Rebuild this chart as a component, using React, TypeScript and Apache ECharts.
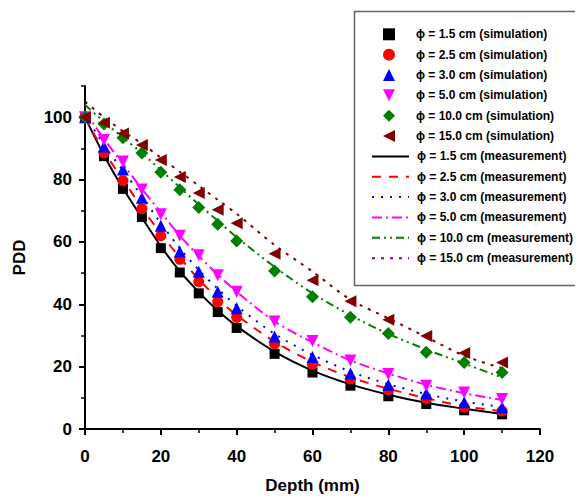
import React, { useEffect, useRef } from "react";
import * as echarts from "echarts";

const depth = [0, 5, 10, 15, 20, 25, 30, 35, 40, 50, 60, 70, 80, 90, 100, 110];

const sim15 = [100, 87.5, 77, 68, 58, 50.2, 43.5, 37.5, 32.4, 24.1, 18.1, 13.9, 10.5, 8.0, 6.0, 4.7];
const sim25 = [100, 88.5, 79.6, 70.6, 62, 54.4, 47.2, 40.8, 35.8, 27.3, 20.8, 16, 12.5, 9.7, 7.0, 5.8];
const sim30 = [100, 90.6, 83.2, 74.2, 65.2, 56.9, 50.4, 44, 38.7, 29.7, 23.1, 17.8, 14.2, 11.4, 8.6, 7.0];
const sim50 = [100, 92.7, 85.8, 76.8, 68.9, 62, 55.7, 49.3, 44, 34.5, 28.2, 22, 17.6, 13.9, 11.7, 9.6];
const sim100 = [100, 97.8, 93.4, 88.5, 82.3, 76.7, 71, 65.7, 60.3, 50.7, 42.4, 35.8, 30.6, 24.6, 21.3, 18.1];
const sim150 = [100, 98.2, 94.8, 91.1, 86.3, 80.8, 75.7, 70.3, 66, 56.2, 47.7, 41, 35, 29.8, 24.4, 21.3];

const meas15 = [100, 87.8, 77.2, 67.8, 58.6, 50.6, 43.9, 38, 33, 24.8, 18.7, 14.3, 11, 8.4, 6.5, 4.8];
const meas25 = [100, 89, 80, 71, 62.6, 55, 48, 41.8, 36.5, 28, 21.5, 16.6, 12.9, 9.9, 7.3, 5.7];
const meas30 = [101, 91, 83, 74.6, 66, 58, 51, 45, 39.5, 30.5, 23.8, 18.4, 14.4, 11.2, 8.8, 7.0];
const meas50 = [102, 93, 85, 77, 69.5, 62, 55.5, 49.5, 44, 34.5, 27.8, 22, 17.8, 14.2, 11.5, 9.3];
const meas100 = [104, 98.5, 93.5, 88.5, 83, 77.5, 72, 66.8, 61.5, 52, 43.5, 36.5, 30.5, 25.5, 21, 16.5];
const meas150 = [105, 100, 95.5, 91.5, 87, 82.5, 78, 73.5, 69, 59, 50.5, 41.5, 35.5, 29.5, 23.5, 19.5];

const sizes = ["1.5", "2.5", "3.0", "5.0", "10.0", "15.0"];
const simNames = sizes.map((s) => `ϕ = ${s} cm (simulation)`);
const measNames = sizes.map((s) => `ϕ = ${s} cm (measurement)`);

const yMajorTicks = [0, 20, 40, 60, 80, 100];
const yMinorTicks = [10, 30, 50, 70, 90, 110];

const FONT = "'Liberation Sans', Arial, sans-serif";

function pairs(vals: number[]) {
  return depth.map((d, i) => [d, vals[i]]);
}

export default function App() {
  const ref = useRef<HTMLDivElement>(null);
  useEffect(() => {
    if (!ref.current) return;
    const chart = echarts.init(ref.current, undefined, { renderer: "svg" });

    const simCfg = [
      { data: sim15, color: "#000000", symbol: "rect", size: 10, rot: 0, icon: "path://M1,1L11,1L11,11L1,11Z" },
      { data: sim25, color: "#ff0000", symbol: "circle", size: 11, rot: 0, icon: "circle" },
      { data: sim30, color: "#0000ff", symbol: "triangle", size: 12, rot: 0, icon: "path://M6,0L12,12L0,12Z" },
      { data: sim50, color: "#ff00ff", symbol: "triangle", size: 12, rot: 180, icon: "path://M0,0L12,0L6,12Z" },
      { data: sim100, color: "#008000", symbol: "diamond", size: 13, rot: 0, icon: "path://M6,0L12,6L6,12L0,6Z" },
      { data: sim150, color: "#800000", symbol: "triangle", size: 12, rot: 90, icon: "path://M0,6L12,0L12,12Z" },
    ];
    const measCfg = [
      { data: meas15, color: "#000000", dash: "solid" as any },
      { data: meas25, color: "#ff0000", dash: [9, 8] },
      { data: meas30, color: "#0000ff", dash: [2, 7] },
      { data: meas50, color: "#ff00ff", dash: [10, 4, 2, 4] },
      { data: meas100, color: "#008000", dash: [8, 4, 2, 4, 2, 4] },
      { data: meas150, color: "#800000", dash: [3, 6] },
    ];

    const series: any[] = [];
    measCfg.forEach((m, i) => {
      series.push({
        name: measNames[i],
        type: "line",
        data: pairs(m.data),
        smooth: 0.3,
        symbol: "none",
        z: 2,
        itemStyle: { color: m.color },
        lineStyle: { color: m.color, width: 2, type: m.dash },
      });
    });
    simCfg.forEach((s, i) => {
      series.push({
        name: simNames[i],
        type: "scatter",
        data: pairs(s.data),
        symbol: s.symbol,
        symbolSize: s.size,
        symbolRotate: s.rot,
        z: 3,
        itemStyle: { color: s.color, opacity: 1 },
      });
    });

    const simLegendData: any[] = simNames.map((n, i) => ({
      name: n,
      icon: simCfg[i].icon,
      itemStyle: { color: simCfg[i].color, opacity: 1 },
    }));

    const hiddenDot = { color: "rgba(0,0,0,0)", borderWidth: 0, opacity: 0 };
    const measLegendData: any[] = measNames.map((n, i) =>
      i === 5
        ? { name: n, itemStyle: hiddenDot, lineStyle: { color: "#800080", width: 2, type: [3, 6] } }
        : { name: n, itemStyle: hiddenDot }
    );

    const legendText = {
      color: "#000",
      fontFamily: FONT,
      fontWeight: "bold",
      fontSize: 12,
      lineHeight: 14,
    };
    const GAP = 6.35;

    const axisLabelStyle = {
      color: "#000",
      fontFamily: FONT,
      fontWeight: "bold" as const,
      fontSize: 17,
    };

    chart.setOption({
      animation: false,
      backgroundColor: "#ffffff",
      grid: { left: 85, right: 43, top: 86, bottom: 67, containLabel: false },
      xAxis: {
        type: "value",
        min: 0,
        max: 120,
        interval: 20,
        name: "Depth (mm)",
        nameLocation: "middle",
        nameGap: 48,
        nameTextStyle: { ...axisLabelStyle },
        axisLine: { show: true, onZero: false, lineStyle: { color: "#000", width: 2 } },
        axisTick: { show: true, inside: false, length: 6, lineStyle: { color: "#000", width: 2 } },
        minorTick: { show: true, splitNumber: 2, length: 4, lineStyle: { color: "#000", width: 1.5 } },
        splitLine: { show: false },
        minorSplitLine: { show: false },
        axisLabel: { ...axisLabelStyle, margin: 19 },
      },
      yAxis: [
        {
          type: "value",
          position: "left",
          min: 0,
          max: 110,
          name: "PDD",
          nameLocation: "middle",
          nameGap: 57,
          nameTextStyle: { ...axisLabelStyle },
          axisLine: { show: true, onZero: false, lineStyle: { color: "#000", width: 2 } },
          axisTick: {
            show: true,
            inside: false,
            length: 6,
            customValues: yMajorTicks,
            lineStyle: { color: "#000", width: 2 },
          },
          splitLine: { show: false },
          axisLabel: { ...axisLabelStyle, margin: 13, customValues: yMajorTicks },
        },
        {
          type: "value",
          position: "left",
          offset: 0,
          min: 0,
          max: 110,
          axisLine: { show: false },
          axisTick: {
            show: true,
            inside: false,
            length: 4,
            customValues: yMinorTicks,
            lineStyle: { color: "#000", width: 1.5 },
          },
          splitLine: { show: false },
          axisLabel: { show: false },
        },
      ],
      legend: [
        {
          data: simLegendData,
          orient: "vertical",
          left: 383,
          top: 27.3,
          padding: 0,
          itemWidth: 12,
          itemHeight: 12,
          itemGap: GAP,
          selectedMode: false,
          textStyle: { ...legendText, padding: [0, 0, 0, 16] },
        },
        {
          data: measLegendData,
          orient: "vertical",
          left: 371,
          top: 27.3 + 6 * (14 + GAP),
          padding: 0,
          itemWidth: 37,
          itemHeight: 12,
          itemGap: GAP,
          selectedMode: false,
          textStyle: { ...legendText, padding: [0, 0, 0, 3] },
        },
      ],
      graphic: [
        {
          type: "rect",
          left: 352,
          top: 9,
          shape: { x: 0, y: 0, width: 250, height: 274 },
          style: { fill: "none", stroke: "#666", lineWidth: 1.5 },
          z: -1,
          silent: true,
        },
      ],
      series,
    });

    return () => chart.dispose();
  }, []);

  return <div ref={ref} style={{ width: 583, height: 499, marginLeft: -8, marginTop: -8 }} />;
}
